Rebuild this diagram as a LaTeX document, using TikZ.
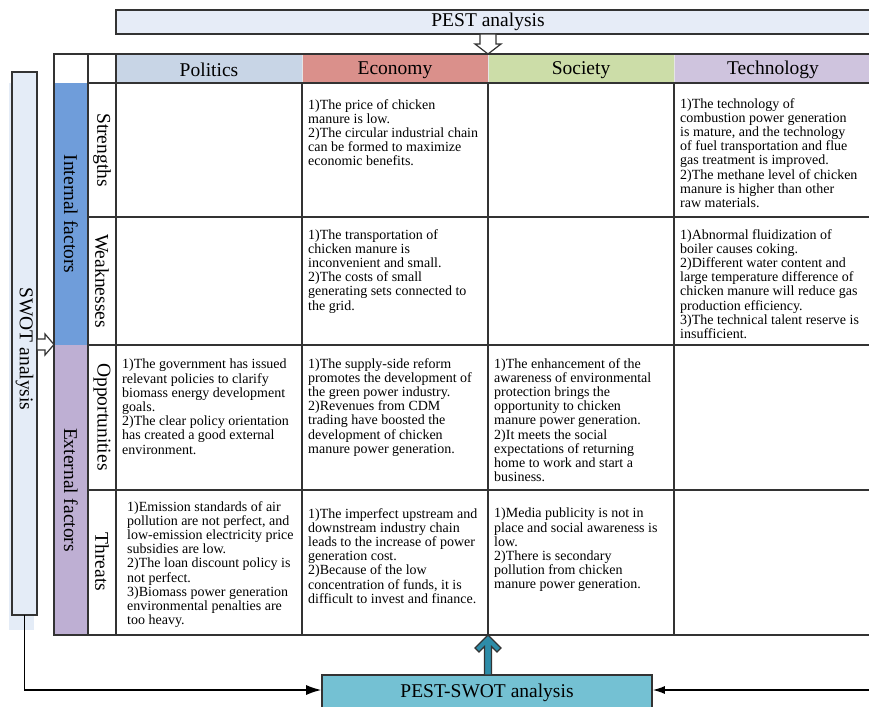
\documentclass[tikz,border=0pt]{standalone}
\usepackage{fontspec}
\setmainfont{Liberation Serif}
\usetikzlibrary{arrows.meta}
\definecolor{linec}{HTML}{333333}
\definecolor{pestfill}{HTML}{E6ECF7}
\definecolor{polc}{HTML}{C8D5E6}
\definecolor{ecoc}{HTML}{DA908B}
\definecolor{socc}{HTML}{CCDDA8}
\definecolor{tecc}{HTML}{CFC4DE}
\definecolor{intc}{HTML}{6F9DDA}
\definecolor{extc}{HTML}{BEAFD3}
\definecolor{swotc}{HTML}{E4ECF7}
\definecolor{psc}{HTML}{74C1D3}
\definecolor{tealc}{HTML}{2D8CA8}
\begin{document}
\begin{tikzpicture}[x=1pt,y=-1pt,
  hdr/.style={font=\fontsize{19.5}{22}\selectfont, inner sep=0},
  celltext/.style={anchor=north west, align=left, inner sep=0, font=\fontsize{14}{14.2}\selectfont},
  vlab/.style={rotate=-90, font=\fontsize{19.5}{22}\selectfont, inner sep=0},
  gridline/.style={draw=linec, line width=1.3pt},
  outline/.style={draw=linec, line width=1.7pt},
  conn/.style={draw=black, line width=1.4pt},
]
\useasboundingbox (0,0) rectangle (869,706);
\clip (0,0) rectangle (869,706);

% PEST analysis box
\draw[outline, fill=pestfill] (116,10) rectangle (880,34);
\node[hdr] (pest) at (488,22) {PEST analysis};

% fills
\fill[polc] (116,54) rectangle (302,83);
\fill[ecoc] (302,54) rectangle (488,83);
\fill[socc] (488,54) rectangle (674,83);
\fill[tecc] (674,54) rectangle (880,83);
\fill[intc] (54,83) rectangle (88,345);
\fill[extc] (54,345) rectangle (88,635);
\draw[white!80!gray, line width=0.8pt] (302,54) -- (302,83) (488,54) -- (488,83) (674,54) -- (674,83);

% grid
\draw[gridline] (88,54) -- (88,635);
\draw[gridline] (116,54) -- (116,635);
\draw[gridline] (302,83) -- (302,635);
\draw[gridline] (488,83) -- (488,635);
\draw[gridline] (674,83) -- (674,635);
\draw[gridline] (88,83) -- (880,83);
\draw[gridline] (88,217) -- (880,217);
\draw[gridline] (88,345) -- (880,345);
\draw[gridline] (88,490) -- (880,490);
\draw[outline] (880,54) -- (54,54) -- (54,635) -- (880,635);

% headers
\node[hdr] (hp) at (209,70) {Politics};
\node[hdr] (he) at (395,70) {Economy};
\node[hdr] (hs) at (581,70) {Society};
\node[hdr] (ht) at (773,70) {Technology};

% row labels
\node[vlab] (ls) at (102,150) {Strengths};
\node[vlab] (lw) at (102,281) {Weaknesses};
\node[vlab] (lo) at (102,417) {Opportunities};
\node[vlab] (lt) at (102,562) {Threats};
\node[vlab] (lin) at (71,214) {Internal factors};
\node[vlab] (lex) at (71,490) {External factors};

% cells
\node[celltext] (es) at (308,99) {1)The price of chicken\\manure is low.\\2)The circular industrial chain\\can be formed to maximize\\economic benefits.};
\node[celltext] (ts) at (680,98) {1)The technology of\\combustion power generation\\is mature, and the technology\\of fuel transportation and flue\\gas treatment is improved.\\2)The methane level of chicken\\manure is higher than other\\raw materials.};
\node[celltext] (ew) at (308,229) {1)The transportation of\\chicken manure is\\inconvenient and small.\\2)The costs of small\\generating sets connected to\\the grid.};
\node[celltext] (tw) at (680,229) {1)Abnormal fluidization of\\boiler causes coking.\\2)Different water content and\\large temperature difference of\\chicken manure will reduce gas\\production efficiency.\\3)The technical talent reserve is\\insufficient.};
\node[celltext] (po) at (122,359) {1)The government has issued\\relevant policies to clarify\\biomass energy development\\goals.\\2)The clear policy orientation\\has created a good external\\environment.};
\node[celltext] (eo) at (308,358) {1)The supply-side reform\\promotes the development of\\the green power industry.\\2)Revenues from CDM\\trading have boosted the\\development of chicken\\manure power generation.};
\node[celltext] (so) at (494,358) {1)The enhancement of the\\awareness of environmental\\protection brings the\\opportunity to chicken\\manure power generation.\\2)It meets the social\\expectations of returning\\home to work and start a\\business.};
\node[celltext] (pt) at (127,501) {1)Emission standards of air\\pollution are not perfect, and\\low-emission electricity price\\subsidies are low.\\2)The loan discount policy is\\not perfect.\\3)Biomass power generation\\environmental penalties are\\too heavy.};
\node[celltext] (et) at (308,508) {1)The imperfect upstream and\\downstream industry chain\\leads to the increase of power\\generation cost.\\2)Because of the low\\concentration of funds, it is\\difficult to invest and finance.};
\node[celltext] (st) at (494,508) {1)Media publicity is not in\\place and social awareness is\\low.\\2)There is secondary\\pollution from chicken\\manure power generation.};

% SWOT box
\fill[swotc] (9,83) rectangle (34,630);
\draw[outline, fill=swotc] (12,72) rectangle (37,615);
\node[minimum width=25pt, minimum height=543pt, inner sep=0] (swot) at (24.5,343.5) {};
\node[vlab] (swott) at (24.5,349) {SWOT analysis};

% hollow arrow from PEST box down
\draw[line width=1.2pt, draw=linec, fill=white, line join=miter]
  (480,34) -- (496,34) -- (496,44) -- (501,44) -- (488,54) -- (475,44) -- (480,44) -- cycle;
% hollow arrow from SWOT box right
\draw[line width=1.2pt, draw=linec, fill=white, line join=miter]
  (37,339) -- (45,339) -- (45,334) -- (54,344.5) -- (45,355) -- (45,350) -- (37,350) -- cycle;

% PEST-SWOT box
\node[draw=linec, line width=1.6pt, fill=psc, minimum width=330pt, minimum height=36pt, inner sep=0,
  font=\fontsize{19.5}{22}\selectfont] (ps) at (487,693) {PEST-SWOT analysis};

% teal arrow up
\draw[fill=tealc, draw=linec, line width=1.1pt, line join=miter]
  (488,635) -- (501,648) -- (497,652) -- (491.5,646.5) -- (491.5,675) -- (484.5,675)
  -- (484.5,646.5) -- (479,652) -- (475,648) -- cycle;

% connectors
\coordinate (rin) at (875,690);
\draw[conn, -{Latex[length=15pt,width=10pt]}] (swot.south) |- (ps.west |- 0,690);
\draw[conn, -{Latex[length=12pt,width=8pt]}] (rin) -- (ps.east |- 0,690);
\end{tikzpicture}
\end{document}
